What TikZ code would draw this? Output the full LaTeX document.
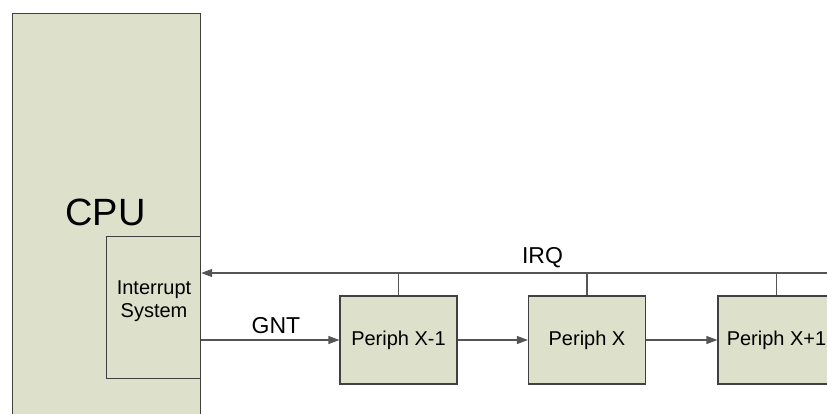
\documentclass[tikz,border=0pt]{standalone}
\usepackage{fontspec}
\setmainfont{Liberation Sans}
\usetikzlibrary{arrows.meta}
\definecolor{boxfill}{RGB}{221,224,203}
\definecolor{boxline}{RGB}{64,64,64}
\definecolor{wire}{RGB}{85,85,85}
\begin{document}
\begin{tikzpicture}[x=1pt,y=-1pt,
  blk/.style={draw=boxline,fill=boxfill,line width=1.2pt,inner sep=0pt},
  periph/.style={blk,minimum width=117pt,minimum height=88pt,font=\fontsize{20}{23}\selectfont},
  wireline/.style={draw=wire,line width=1.2pt},
  arr/.style={wireline,-{Triangle[length=11pt,width=8pt]}},
  lbl/.style={font=\fontsize{23}{27}\selectfont,inner sep=0pt}]
\useasboundingbox (0,0) rectangle (827,413);
\clip (0,0) rectangle (827,413);
\node[blk,minimum width=188pt,minimum height=420pt,anchor=north west] (cpu) at (12,13) {};
\node[inner sep=0pt,anchor=base,font=\fontsize{38}{44}\selectfont] (cputxt) at (105.5,225) {CPU};
\node[blk,minimum width=94pt,minimum height=142pt,anchor=north west] (intr) at (106,236) {};
\node[inner sep=0pt,align=center,font=\fontsize{20}{23}\selectfont] (intrtxt) at (154,301) {Interrupt\\System};
\node[periph] (p1) at (398.5,340) {Periph X-1};
\node[periph] (p2) at (587,340) {Periph X};
\node[periph] (p3) at (776.5,340) {Periph X+1};
\coordinate (irqend) at (832,273);
\draw[arr] (irqend) -- (cpu.east |- irqend);
\draw[wireline] (p1.north) -- (p1.north |- irqend);
\draw[wireline] (p2.north) -- (p2.north |- irqend);
\draw[wireline] (p3.north) -- (p3.north |- irqend);
\draw[arr] (intr.east |- p1.west) -- (p1.west);
\draw[arr] (p1.east) -- (p2.west);
\draw[arr] (p2.east) -- (p3.west);
\node[lbl,anchor=base] (irqlbl) at (542.5,263) {IRQ};
\node[lbl,anchor=base] (gntlbl) at (276,333) {GNT};
\end{tikzpicture}
\end{document}
